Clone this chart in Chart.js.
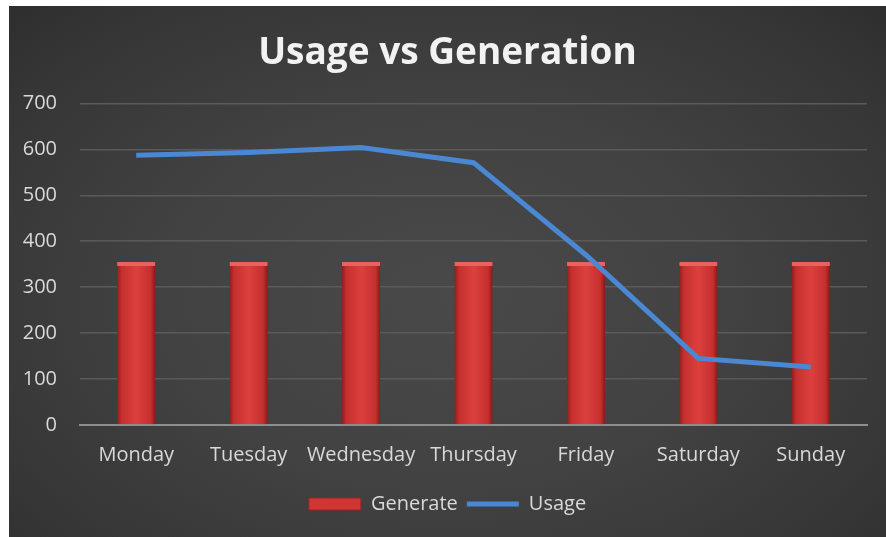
<!DOCTYPE html>
<html>
<head>
<meta charset="utf-8">
<title>Usage vs Generation</title>
<script src="https://cdn.jsdelivr.net/npm/chart.js@4.4.1/dist/chart.umd.min.js"></script>
<style>
  html, body { margin: 0; padding: 0; background: #ffffff; }
  #wrap {
    position: absolute;
    left: 9px;
    top: 6px;
    width: 877px;
    height: 531px;
    background: radial-gradient(ellipse at 50% 55%, #494949 0%, #424242 45%, #353535 85%, #2e2e2e 100%);
  }
  canvas { display: block; }
</style>
</head>
<body>
<div id="wrap"><canvas id="energyChart" width="877" height="531"></canvas></div>
<script>
const days = ["Monday", "Tuesday", "Wednesday", "Thursday", "Friday", "Saturday", "Sunday"];
const generated = [355, 355, 355, 355, 355, 355, 355];
const usage = [587, 593, 604, 571, 370, 145, 126];
const yTicks = [0, 100, 200, 300, 400, 500, 600, 700];

const BAR_PCT = 0.34;
const fontFamily = "'Open Sans', Lato, sans-serif";

// red bars get a rounded-looking horizontal shade
function barFill(context) {
  const chart = context.chart;
  const x = chart.scales && chart.scales.x;
  if (!chart.chartArea || !x || context.dataIndex === undefined) return "#d23a37";
  const cx = x.getPixelForValue(context.dataIndex);
  const half = (chart.chartArea.width / days.length) * BAR_PCT / 2;
  const g = chart.ctx.createLinearGradient(cx - half, 0, cx + half, 0);
  g.addColorStop(0, "#8f1e1c");
  g.addColorStop(0.12, "#c4302e");
  g.addColorStop(0.5, "#dc403d");
  g.addColorStop(0.88, "#c4302e");
  g.addColorStop(1, "#861a19");
  return g;
}

const ctx = document.getElementById("energyChart").getContext("2d");

new Chart(ctx, {
  data: {
    labels: days,
    datasets: [
      {
        type: "bar",
        label: "Generate",
        data: generated,
        backgroundColor: barFill,
        borderColor: "#e8625e",
        borderWidth: { top: 4, left: 0, right: 0, bottom: 0 },
        borderSkipped: "bottom",
        barPercentage: BAR_PCT,
        categoryPercentage: 1,
        pointStyle: "rect",
        order: 2,
      },
      {
        type: "line",
        label: "Usage",
        data: usage,
        borderColor: "#4a88d4",
        backgroundColor: "#4a88d4",
        borderWidth: 5,
        pointRadius: 0,
        tension: 0,
        pointStyle: "line",
        order: 1,
      },
    ],
  },
  options: {
    responsive: false,
    animation: false,
    layout: { padding: { left: 0, right: 0, top: 0, bottom: 13 } },
    plugins: {
      title: {
        display: true,
        text: "Usage vs Generation",
        color: "#f2f2f2",
        font: { family: fontFamily, size: 37, weight: "bold" },
        padding: { top: 25, bottom: 28 },
      },
      legend: {
        position: "bottom",
        labels: {
          color: "#d9d9d9",
          font: { family: fontFamily, size: 20 },
          usePointStyle: true,
          pointStyleWidth: 52,
          boxHeight: 12,
          padding: 9,
          sort: (a, b) => a.datasetIndex - b.datasetIndex,
          generateLabels(chart) {
            const items = Chart.defaults.plugins.legend.labels.generateLabels(chart);
            items.forEach((item) => {
              if (item.datasetIndex === 0) {
                item.fillStyle = "#cf3734";
                item.strokeStyle = "#9a2220";
                item.lineWidth = 1;
              }
            });
            return items;
          },
        },
      },
      tooltip: { enabled: false },
    },
    scales: {
      x: {
        grid: { display: false, drawTicks: false },
        border: { display: true, color: "#8e8e8e", width: 2 },
        ticks: {
          color: "#d9d9d9",
          font: { family: fontFamily, size: 20 },
          padding: 18,
          maxRotation: 0,
        },
      },
      y: {
        min: 0,
        max: 700,
        afterBuildTicks(scale) {
          scale.ticks = yTicks.map((v) => ({ value: v }));
        },
        afterFit(scale) {
          scale.width = 71;
        },
        grid: { color: "#5a5a5a", lineWidth: 1.5, drawTicks: false },
        border: { display: false },
        ticks: {
          color: "#d9d9d9",
          font: { family: fontFamily, size: 20 },
          padding: 23,
        },
      },
      // empty strip on the right edge of the plot
      gutter: {
        type: "linear",
        position: "right",
        grid: { display: false },
        border: { display: false },
        ticks: { display: false },
        afterFit(scale) {
          scale.width = 19;
        },
      },
    },
  },
});
</script>
</body>
</html>
